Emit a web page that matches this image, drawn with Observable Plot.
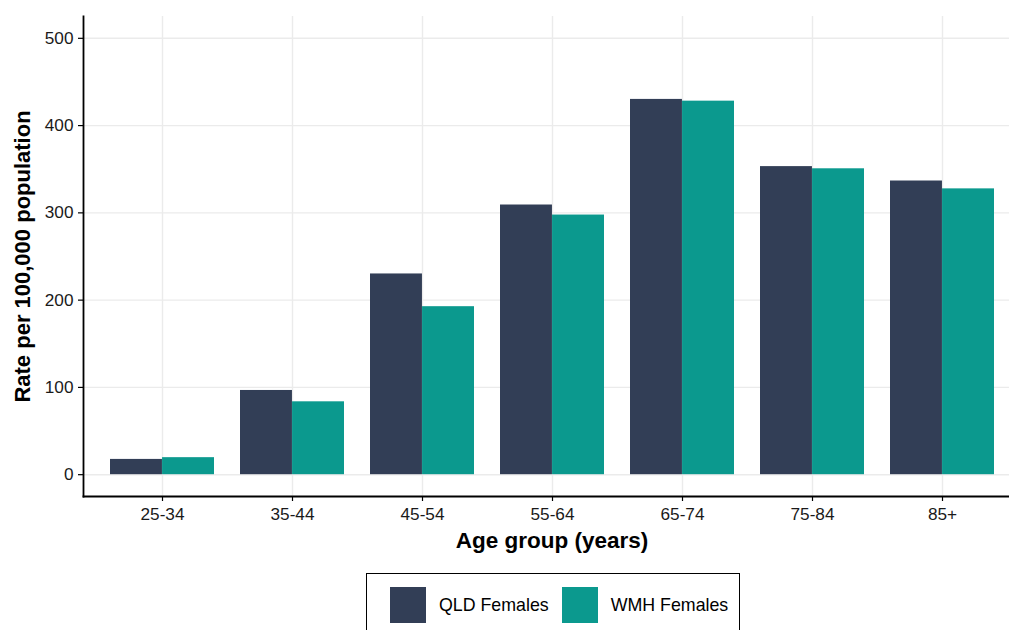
<!DOCTYPE html>
<html>
<head>
<meta charset="utf-8">
<script src="https://cdn.jsdelivr.net/npm/d3@7"></script>
<script src="https://cdn.jsdelivr.net/npm/@observablehq/plot@0.6"></script>
<style>
  html, body { margin: 0; padding: 0; background: #fff; overflow: hidden; width: 1009px; height: 630px; }
  body { font-family: "Liberation Sans", Arial, sans-serif; }
  #chart svg { max-width: none !important; display: block; }
  .legend {
    margin-left: 366px;
    margin-top: 8px;
    display: inline-flex;
    align-items: center;
    border: 1.5px solid #000;
    padding: 13px 11px 14px 23px;
    font-size: 17.8px;
    color: #000;
  }
  .sw { width: 36px; height: 36px; margin-right: 13px; }
  .lab { margin-right: 13px; }
  .lab:last-child { margin-right: 0; }
</style>
</head>
<body>
<div id="chart"></div>
<script>
const ages = ["25-34", "35-44", "45-54", "55-64", "65-74", "75-84", "85+"];
const seriesNames = ["QLD Females", "WMH Females"];
const qldValues = [17.5, 96.5, 230, 309, 430, 353, 336.5];
const wmhValues = [19.5, 83.5, 192.5, 297.5, 428, 350.5, 327.5];
const yTicks = [0, 100, 200, 300, 400, 500];
const colors = ["#323E56", "#0B998E"];

const W = 1009, H = 565;
const mL = 83, mR = -11, mT = 16, mB = 69;
const step = (W - mR - mL) / 7.2;
const half = step * 0.4;

const qld = ages.map((a, i) => ({age: a, value: qldValues[i]}));
const wmh = ages.map((a, i) => ({age: a, value: wmhValues[i]}));

const font = "'Liberation Sans', Arial, sans-serif";

const plot = Plot.plot({
  width: W,
  height: H,
  marginLeft: mL,
  marginRight: mR,
  marginTop: mT,
  marginBottom: mB,
  style: {fontFamily: font, fontSize: "17px", color: "#000", background: "#fff"},
  x: {type: "band", domain: ages, paddingInner: 0.2, paddingOuter: 0.2, axis: null},
  y: {domain: [-25, 525], axis: null},
  marks: [
    Plot.gridY(yTicks, {stroke: "#ebebeb", strokeOpacity: 1, strokeWidth: 1.4}),
    Plot.gridX(ages, {stroke: "#ebebeb", strokeOpacity: 1, strokeWidth: 1.4}),
    Plot.barY(qld, {x: "age", y1: 0, y2: "value", fill: colors[0], insetRight: half}),
    Plot.barY(wmh, {x: "age", y1: 0, y2: "value", fill: colors[1], insetLeft: half}),
    Plot.axisY(yTicks, {tickSize: 5, tickPadding: 5, fontSize: 17.2, stroke: "#000", strokeWidth: 1.2, fill: "#1a1a1a", label: null}),
    Plot.axisX(ages, {tickSize: 5, tickPadding: 6, fontSize: 17.2, stroke: "#000", strokeWidth: 1.2, fill: "#1a1a1a", label: null}),
    Plot.frame({anchor: "left", stroke: "#000", strokeWidth: 1.8}),
    Plot.frame({anchor: "bottom", stroke: "#000", strokeWidth: 1.8}),
    Plot.text(["Age group (years)"], {frameAnchor: "bottom", dy: 51, fontSize: 22.5, fontWeight: "bold", fill: "#000"}),
    Plot.text(["Rate per 100,000 population"], {frameAnchor: "left", textAnchor: "middle", dx: -61, rotate: -90, fontSize: 22, fontWeight: "bold", fill: "#000"})
  ]
});
document.getElementById("chart").appendChild(plot);

const legend = document.createElement("div");
legend.className = "legend";
seriesNames.forEach((name, i) => {
  const sw = document.createElement("span");
  sw.className = "sw";
  sw.style.background = colors[i];
  const lab = document.createElement("span");
  lab.className = "lab";
  lab.textContent = name;
  legend.appendChild(sw);
  legend.appendChild(lab);
});
document.body.appendChild(legend);
</script>
</body>
</html>
